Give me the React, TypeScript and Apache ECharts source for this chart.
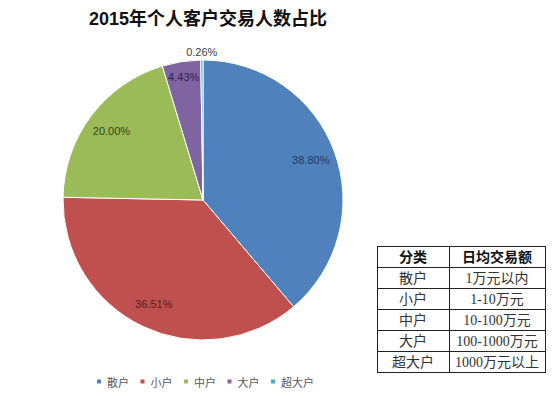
import React, { useEffect, useRef } from "react";
import * as echarts from "echarts";

const categories = ["散户", "小户", "中户", "大户", "超大户"];
const shares = [38.8, 36.51, 20.0, 4.43, 0.26];
const titleText = "2015年个人客户交易人数占比";
const tableHeader = ["分类", "日均交易额"];
const tableCategories = ["散户", "小户", "中户", "大户", "超大户"];
const tableRanges = ["1万元以内", "1-10万元", "10-100万元", "100-1000万元", "1000万元以上"];

const COLORS = ["#4F81BD", "#C0504D", "#9BBB59", "#8064A2", "#4BACC6"];
const LABEL_COLORS = ["#1f3a60", "#5a1a18", "#33441a", "#2e2146", "#404040"];
const LABEL_K = [0.82, 0.82, 0.82, 0.89, 1.06];
const CX = 203;
const CY = 200;
const R = 140;

export default function App() {
  const ref = useRef<HTMLDivElement>(null);
  useEffect(() => {
    if (!ref.current) return;
    const chart = echarts.init(ref.current, null, { renderer: "svg" });
    const total = shares.reduce((a, b) => a + b, 0);
    const starts: number[] = [];
    let acc = 0;
    shares.forEach((v) => {
      starts.push(acc);
      acc += v;
    });

    // table
    const tX0 = 377, tX1 = 545, tXm = 449, tY0 = 246, rowH = 21;
    const nRows = tableCategories.length + 1;
    const lineStyle = { stroke: "#222", lineWidth: 1 };
    const tableEls: any[] = [];
    for (let i = 0; i <= nRows; i++) {
      const y = tY0 + i * rowH + 0.5;
      tableEls.push({ type: "line", shape: { x1: tX0, y1: y, x2: tX1, y2: y }, style: lineStyle });
    }
    [tX0 + 0.5, tXm + 0.5, tX1 + 0.5].forEach((x) => {
      tableEls.push({ type: "line", shape: { x1: x, y1: tY0, x2: x, y2: tY0 + nRows * rowH + 1 }, style: lineStyle });
    });
    const colC1 = (tX0 + tXm) / 2;
    const colC2 = (tXm + tX1) / 2;
    const ff = "'Liberation Serif', 'Noto Sans CJK SC', serif";
    tableHeader.forEach((h, j) => {
      tableEls.push({
        type: "text",
        x: j === 0 ? colC1 : colC2,
        y: tY0 + rowH / 2 + 1,
        style: { text: h, fontSize: 14, fontWeight: "bold", fontFamily: ff, fill: "#111", align: "center", verticalAlign: "middle" },
      });
    });
    tableCategories.forEach((c, i) => {
      const y = tY0 + (i + 1) * rowH + rowH / 2 + 1;
      tableEls.push({
        type: "text", x: colC1, y,
        style: { text: c, fontSize: 14, fontFamily: ff, fill: "#333", align: "center", verticalAlign: "middle" },
      });
      tableEls.push({
        type: "text", x: colC2, y,
        style: { text: tableRanges[i], fontSize: 14, fontFamily: ff, fill: "#333", align: "center", verticalAlign: "middle" },
      });
    });

    chart.setOption({
      animation: false,
      backgroundColor: "#ffffff",
      color: COLORS,
      title: {
        text: titleText,
        left: CX,
        top: 5,
        textAlign: "center",
        textStyle: { fontSize: 18, fontWeight: "bold", color: "#111", fontFamily: "'Liberation Sans', 'Noto Sans CJK SC', sans-serif" },
      },
      legend: {
        data: categories,
        left: 90,
        top: 371,
        icon: "rect",
        itemWidth: 6,
        itemHeight: 6,
        itemGap: 9.5,
        textStyle: { fontSize: 11, color: "#595959", fontFamily: "'Noto Sans CJK SC', sans-serif" },
      },
      graphic: tableEls,
      series: [
        {
          type: "pie",
          center: [CX, CY],
          radius: R,
          startAngle: 90,
          clockwise: true,
          avoidLabelOverlap: false,
          itemStyle: { borderColor: "#ffffff", borderWidth: 1 },
          label: {
            show: true,
            position: "inside",
            formatter: (p: any) => shares[p.dataIndex].toFixed(2) + "%",
            fontSize: 11,
            fontFamily: "'Liberation Sans', sans-serif",
          },
          labelLine: { show: false },
          labelLayout: (params: any) => {
            const i = params.dataIndex;
            const mid = ((starts[i] + shares[i] / 2) / total) * Math.PI * 2;
            const k = LABEL_K[i] * R;
            return {
              x: CX + k * Math.sin(mid),
              y: CY - k * Math.cos(mid),
              align: "center",
              verticalAlign: "middle",
            };
          },
          data: categories.map((name, i) => ({
            name,
            value: shares[i],
            label: { color: LABEL_COLORS[i] },
          })),
        },
      ],
    });
    return () => chart.dispose();
  }, []);
  return <div ref={ref} style={{ position: "fixed", left: 0, top: 0, width: 554, height: 398 }} />;
}
